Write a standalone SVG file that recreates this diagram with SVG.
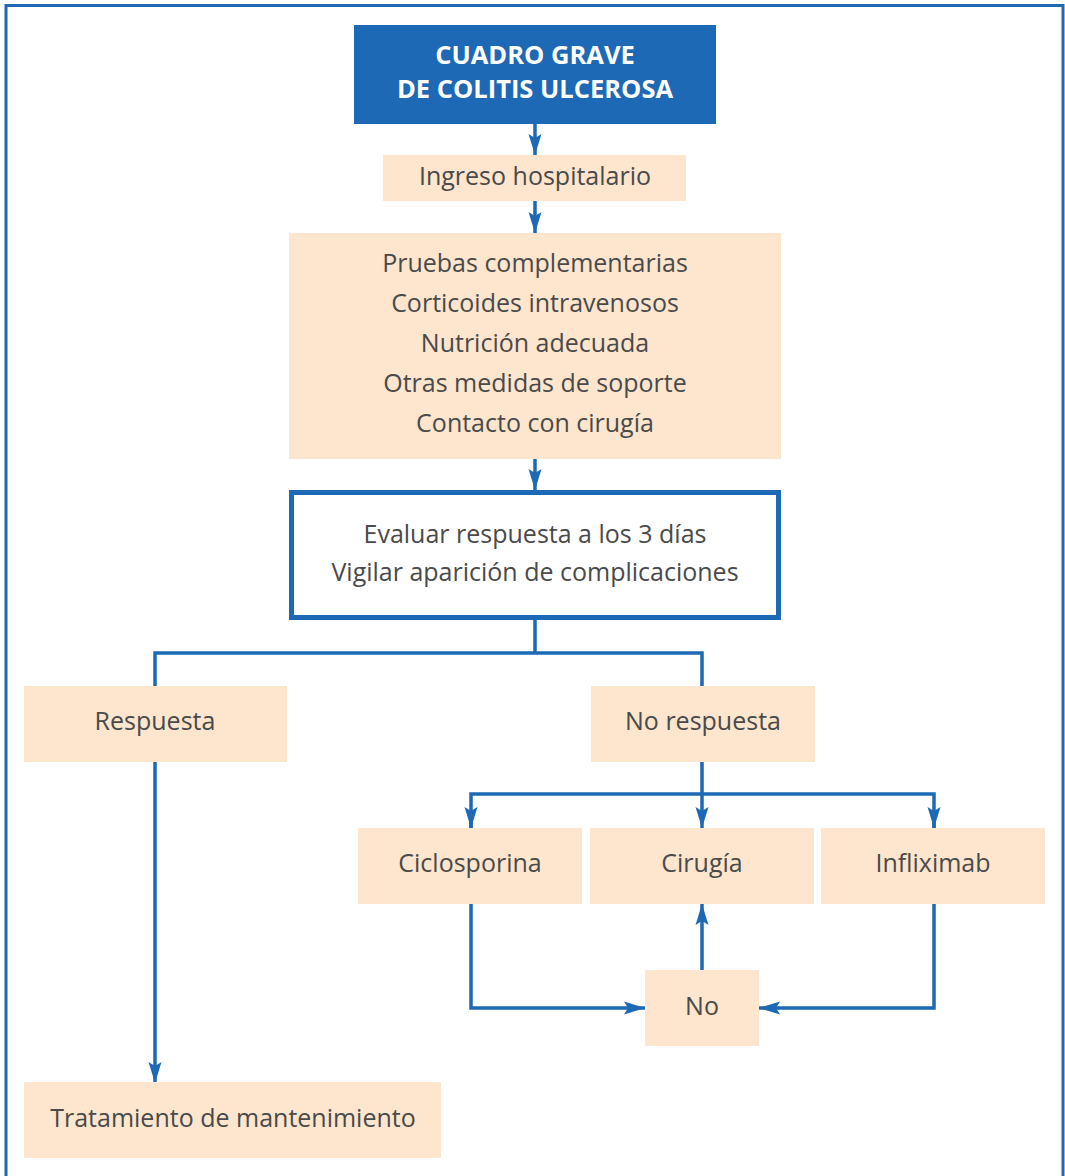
<svg xmlns="http://www.w3.org/2000/svg" width="1065" height="1176" viewBox="0 0 1065 1176">
<defs>
<style>
.box{fill:#fde6cd}
.t{font-family:"Open Sans","Liberation Sans",sans-serif;font-size:25px;fill:#4a4a4a;text-anchor:middle}
.tt{font-family:"Open Sans","Liberation Sans",sans-serif;font-size:25.5px;font-weight:bold;fill:#ffffff;text-anchor:middle}
.c{fill:none;stroke:#1d69b5;stroke-width:3.5}
</style>
<marker id="ar" markerUnits="userSpaceOnUse" markerWidth="22" markerHeight="14" refX="21" refY="7" orient="auto">
<path d="M0,0.5 L21,7 L0,13.5 L4,7 Z" fill="#1d69b5"/>
</marker>
</defs>
<rect width="1065" height="1176" fill="#ffffff"/>
<rect x="6" y="5.5" width="1057" height="1200" fill="none" stroke="#1d69b5" stroke-width="3"/>
<g id="connectors">
<path class="c" d="M535,124 V155" marker-end="url(#ar)"/>
<path class="c" d="M535,201 V233" marker-end="url(#ar)"/>
<path class="c" d="M535,459 V490" marker-end="url(#ar)"/>
<path class="c" d="M535,620 V653 M155,686 V653 H702 V686"/>
<path class="c" d="M155,762 V1083" marker-end="url(#ar)"/>
<path class="c" d="M702,762 V828" marker-end="url(#ar)"/>
<path class="c" d="M471,828 V794 H934 V828" />
<path class="c" d="M471,811 V828" marker-end="url(#ar)"/>
<path class="c" d="M934,811 V828" marker-end="url(#ar)"/>
<path class="c" d="M471,904 V1008 H645" marker-end="url(#ar)"/>
<path class="c" d="M934,904 V1008 H759" marker-end="url(#ar)"/>
<path class="c" d="M702,970 V904" marker-end="url(#ar)"/>
</g>
<g id="n-cuadro">
<rect x="354" y="25" width="362" height="99" fill="#1d69b5"/>
<text class="tt" x="535" y="63.5">CUADRO GRAVE</text>
<text class="tt" x="535" y="98">DE COLITIS ULCEROSA</text>
</g>
<g id="n-ingreso">
<rect class="box" x="383" y="155" width="303" height="46"/>
<text class="t" x="535" y="185">Ingreso hospitalario</text>
</g>
<g id="n-pruebas">
<rect class="box" x="289" y="233" width="492" height="226"/>
<text class="t" x="535" y="272">Pruebas complementarias</text>
<text class="t" x="535" y="312">Corticoides intravenosos</text>
<text class="t" x="535" y="352">Nutrición adecuada</text>
<text class="t" x="535" y="392">Otras medidas de soporte</text>
<text class="t" x="535" y="432">Contacto con cirugía</text>
</g>
<g id="n-evaluar">
<rect x="291.5" y="492.5" width="487" height="125" fill="#ffffff" stroke="#1d69b5" stroke-width="5"/>
<text class="t" x="535" y="543">Evaluar respuesta a los 3 días</text>
<text class="t" x="535" y="581">Vigilar aparición de complicaciones</text>
</g>
<g id="n-respuesta">
<rect class="box" x="24" y="686" width="263" height="76"/>
<text class="t" x="155" y="730">Respuesta</text>
</g>
<g id="n-norespuesta">
<rect class="box" x="591" y="686" width="224" height="76"/>
<text class="t" x="703" y="730">No respuesta</text>
</g>
<g id="n-ciclosporina">
<rect class="box" x="358" y="828" width="224" height="76"/>
<text class="t" x="470" y="872">Ciclosporina</text>
</g>
<g id="n-cirugia">
<rect class="box" x="590" y="828" width="224" height="76"/>
<text class="t" x="702" y="872">Cirugía</text>
</g>
<g id="n-infliximab">
<rect class="box" x="821" y="828" width="224" height="76"/>
<text class="t" x="933" y="872">Infliximab</text>
</g>
<g id="n-no">
<rect class="box" x="645" y="970" width="114" height="76"/>
<text class="t" x="702" y="1015">No</text>
</g>
<g id="n-tratamiento">
<rect class="box" x="24" y="1082" width="417" height="76"/>
<text class="t" x="233" y="1127">Tratamiento de mantenimiento</text>
</g>
</svg>
